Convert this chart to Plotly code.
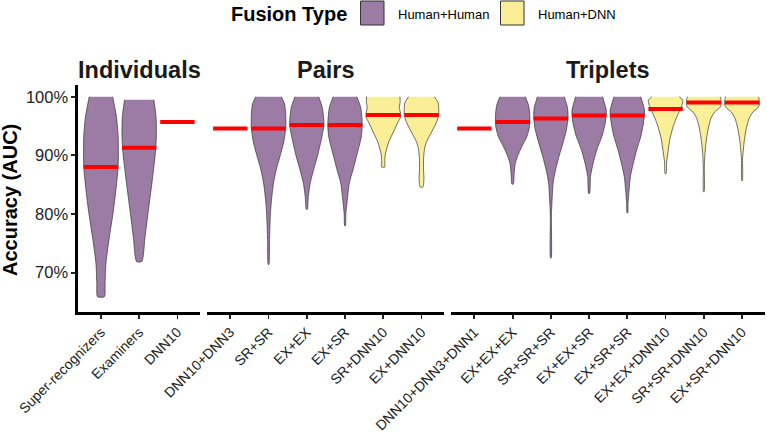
import plotly.graph_objects as go

# ---------------- data ----------------
ind_labels = ["Super-recognizers", "Examiners", "DNN10"]
pair_labels = ["DNN10+DNN3", "SR+SR", "EX+EX", "EX+SR", "SR+DNN10", "EX+DNN10"]
trip_labels = ["DNN10+DNN3+DNN1", "EX+EX+EX", "SR+SR+SR", "EX+EX+SR", "EX+SR+SR",
               "EX+EX+DNN10", "SR+SR+DNN10", "EX+SR+DNN10"]

ind_medians = [88.0, 91.3, 95.7]
pair_medians = [94.6, 94.6, 95.2, 95.2, 96.9, 96.9]
trip_medians = [94.6, 95.7, 96.3, 96.8, 96.8, 97.9, 99.0, 99.0]

ind_fusion = ["Human+Human", "Human+Human", None]
pair_fusion = [None, "Human+Human", "Human+Human", "Human+Human", "Human+DNN", "Human+DNN"]
trip_fusion = [None, "Human+Human", "Human+Human", "Human+Human", "Human+Human",
               "Human+DNN", "Human+DNN", "Human+DNN"]

# violin outlines: accuracy (%) and relative density width (0..1)
sr_acc = [100.0, 96.6, 93.2, 88.1, 84.1, 80.1, 76.1, 71.6, 68.2, 65.9]
sr_den = [0.68, 0.90, 1.00, 1.00, 0.87, 0.70, 0.49, 0.29, 0.24, 0.20]
ex_acc = [99.5, 96.6, 93.2, 90.1, 85.3, 80.1, 76.1, 71.9]
ex_den = [0.85, 0.98, 1.00, 0.93, 0.74, 0.51, 0.34, 0.15]

srsr_acc = [100.0, 98.8, 96.8, 94.6, 92.1, 90.1, 87.5, 85.3, 82.4, 80.1, 76.1, 71.4]
srsr_den = [0.74, 0.93, 1.00, 1.00, 0.87, 0.69, 0.44, 0.29, 0.17, 0.11, 0.06, 0.02]
exex_acc = [100.0, 98.2, 95.4, 93.2, 90.1, 87.5, 85.3, 83.0, 80.8]
exex_den = [0.69, 0.90, 1.00, 0.88, 0.64, 0.39, 0.20, 0.09, 0.03]
exsr_acc = [100.0, 98.2, 95.4, 93.2, 90.1, 87.5, 85.3, 82.4, 80.1, 78.0]
exsr_den = [0.69, 0.91, 1.00, 0.95, 0.69, 0.46, 0.25, 0.13, 0.05, 0.02]
srdnn_acc = [100.0, 99.0, 98.2, 97.2, 96.5, 95.7, 94.0, 92.3, 90.6, 89.7, 88.5, 88.0]
srdnn_den = [0.97, 0.98, 0.93, 1.00, 1.00, 0.86, 0.59, 0.32, 0.15, 0.10, 0.09, 0.09]
exdnn_acc = [100.0, 99.0, 98.0, 96.8, 95.7, 94.0, 92.3, 91.2, 89.5, 87.5, 86.0, 84.6]
exdnn_den = [0.75, 0.97, 1.00, 1.00, 0.88, 0.59, 0.29, 0.18, 0.12, 0.12, 0.14, 0.08]

exexex_acc = [100.0, 98.5, 96.6, 94.9, 93.2, 92.1, 90.9, 89.8, 88.6, 86.9, 85.1]
exexex_den = [0.74, 0.93, 1.00, 0.98, 0.83, 0.64, 0.44, 0.28, 0.15, 0.09, 0.04]
srsrsr_acc = [100.0, 98.2, 96.6, 94.3, 92.1, 89.8, 87.5, 85.3, 82.4, 79.6, 72.5]
srsrsr_den = [0.78, 0.96, 1.00, 0.90, 0.70, 0.47, 0.27, 0.13, 0.07, 0.03, 0.02]
exexsr_acc = [100.0, 97.6, 95.4, 93.2, 90.9, 88.6, 86.4, 83.5]
exexsr_den = [0.78, 1.00, 0.93, 0.74, 0.44, 0.23, 0.08, 0.03]
exsrsr_acc = [100.0, 97.6, 95.4, 93.2, 90.9, 88.6, 86.4, 84.1, 81.8, 80.2]
exsrsr_den = [0.78, 1.00, 0.93, 0.78, 0.54, 0.34, 0.18, 0.10, 0.04, 0.02]
exexdnn_acc = [100.0, 99.4, 98.5, 98.0, 97.4, 96.2, 95.1, 92.8, 90.6, 88.9, 86.9]
exexdnn_den = [0.80, 1.00, 0.95, 0.85, 0.78, 0.60, 0.46, 0.25, 0.14, 0.06, 0.03]
srsrdnn_acc = [100.0, 99.5, 98.5, 98.0, 97.4, 96.3, 94.5, 92.3, 90.0, 88.0, 83.8]
srsrdnn_den = [0.95, 1.00, 1.00, 0.88, 0.63, 0.41, 0.25, 0.13, 0.06, 0.03, 0.02]
exsrdnn_acc = [100.0, 99.5, 98.5, 98.0, 97.4, 96.3, 94.5, 92.3, 90.5, 89.4, 85.7]
exsrdnn_den = [0.95, 1.00, 1.00, 0.88, 0.63, 0.41, 0.24, 0.12, 0.06, 0.03, 0.02]

ind_profiles = [(sr_acc, sr_den), (ex_acc, ex_den), None]
pair_profiles = [None, (srsr_acc, srsr_den), (exex_acc, exex_den), (exsr_acc, exsr_den),
                 (srdnn_acc, srdnn_den), (exdnn_acc, exdnn_den)]
trip_profiles = [None, (exexex_acc, exexex_den), (srsrsr_acc, srsrsr_den),
                 (exexsr_acc, exexsr_den), (exsrsr_acc, exsrsr_den),
                 (exexdnn_acc, exexdnn_den), (srsrdnn_acc, srsrdnn_den),
                 (exsrdnn_acc, exsrdnn_den)]

panel_titles = ["Individuals", "Pairs", "Triplets"]
y_ticks = [70, 80, 90, 100]
y_tick_labels = ["70%", "80%", "90%", "100%"]
legend_title = "Fusion Type"
legend_names = ["Human+Human", "Human+DNN"]

# ---------------- style ----------------
FONT = "Liberation Sans, Arial, sans-serif"
FILL = {"Human+Human": "#9C7BA5", "Human+DNN": "#FAEE96"}
W, H = 767, 434
L, R, T, B = 78, 2, 85, 122
PW, PH = W - L - R, H - T - B
GAP = 7
HALF = 0.45


def px_x(px):
    return (px - L) / PW


def px_y(py):
    return (H - B - py) / PH


panels = [
    (ind_labels, ind_medians, ind_fusion, ind_profiles),
    (pair_labels, pair_medians, pair_fusion, pair_profiles),
    (trip_labels, trip_medians, trip_fusion, trip_profiles),
]
total_units = sum(len(p[0]) + 0.2 for p in panels)
unit = (PW - GAP * (len(panels) - 1)) / total_units

fig = go.Figure()
layout_axes = {}
start = 0.0
centers = []
for i, (labels, meds, fus, profs) in enumerate(panels):
    n = len(labels)
    width = (n + 0.2) * unit
    dom = [start / PW, (start + width) / PW]
    centers.append(L + start + width / 2)
    start += width + GAP
    xa = "x" if i == 0 else f"x{i + 1}"
    key = "xaxis" if i == 0 else f"xaxis{i + 1}"
    layout_axes[key] = dict(
        domain=dom, range=[-0.6, n - 0.4], anchor="y", automargin=False,
        tickmode="array", tickvals=list(range(n)), ticktext=labels, tickangle=-45,
        tickfont=dict(size=14, color="#222222", family=FONT),
        showline=True, linewidth=2.6, linecolor="black",
        ticks="outside", ticklen=4, tickwidth=1.8, tickcolor="#222222",
        showgrid=False, zeroline=False, fixedrange=True,
    )
    for j in range(n):
        prof = profs[j]
        if prof is None:
            continue
        acc, den = prof
        xs = [j + HALF * d for d in den] + [j - HALF * d for d in reversed(den)]
        ys = list(acc) + list(reversed(acc))
        fig.add_trace(go.Scatter(
            x=xs, y=ys, mode="lines", fill="toself", fillcolor=FILL[fus[j]],
            line=dict(color="#333333", width=0.7, shape="spline", smoothing=0.6),
            xaxis=xa, yaxis="y", showlegend=False, hoverinfo="skip"))
    mx, my = [], []
    for j, m in enumerate(meds):
        mx += [j - HALF, j + HALF, None]
        my += [m, m, None]
    fig.add_trace(go.Scatter(x=mx, y=my, mode="lines",
                             line=dict(color="#FF0000", width=4),
                             xaxis=xa, yaxis="y", showlegend=False, hoverinfo="skip"))

annotations = []
for title, cx in zip(panel_titles, centers):
    annotations.append(dict(text=f"<b>{title}</b>", x=px_x(cx), y=px_y(69.5),
                            xref="paper", yref="paper", xanchor="center", yanchor="middle",
                            showarrow=False, font=dict(size=23.5, color="#1a1a1a", family=FONT)))

annotations.append(dict(text="<b>Accuracy (AUC)</b>", x=px_x(10), y=px_y(200), textangle=-90,
                        xref="paper", yref="paper", xanchor="center", yanchor="middle",
                        showarrow=False, font=dict(size=20, color="black", family=FONT)))

# legend (drawn manually)
annotations.append(dict(text=f"<b>{legend_title}</b>", x=px_x(229), y=px_y(14.5),
                        xref="paper", yref="paper", xanchor="left", yanchor="middle",
                        showarrow=False, font=dict(size=20, color="black", family=FONT)))
shapes = []
legend_pos = [(360.5, 395.5), (500.5, 536.0)]
for name, (kx, tx) in zip(legend_names, legend_pos):
    shapes.append(dict(type="rect", xref="paper", yref="paper",
                       x0=px_x(kx), x1=px_x(kx + 23.5), y0=px_y(25), y1=px_y(1),
                       fillcolor=FILL[name], line=dict(color="#333333", width=1)))
    annotations.append(dict(text=name, x=px_x(tx), y=px_y(14.5),
                            xref="paper", yref="paper", xanchor="left", yanchor="middle",
                            showarrow=False, font=dict(size=13, color="black", family=FONT)))

fig.update_layout(
    template="none",
    width=W, height=H,
    margin=dict(l=L, r=R, t=T, b=B, pad=0, autoexpand=False),
    paper_bgcolor="white", plot_bgcolor="white",
    showlegend=False,
    font=dict(family=FONT),
    yaxis=dict(domain=[0, 1], range=[63.3, 102.0], anchor="x", automargin=False,
               tickmode="array", tickvals=y_ticks, ticktext=y_tick_labels,
               tickfont=dict(size=16.5, color="#222222", family=FONT),
               showline=True, linewidth=2.6, linecolor="black",
               ticks="outside", ticklen=4, tickwidth=1.8, tickcolor="#222222",
               showgrid=False, zeroline=False, fixedrange=True),
    annotations=annotations, shapes=shapes,
    **layout_axes,
)

fig.write_html(
    "out.html",
    config={"staticPlot": True},
    post_script="document.body.style.margin='0';document.body.style.overflow='hidden';",
)
